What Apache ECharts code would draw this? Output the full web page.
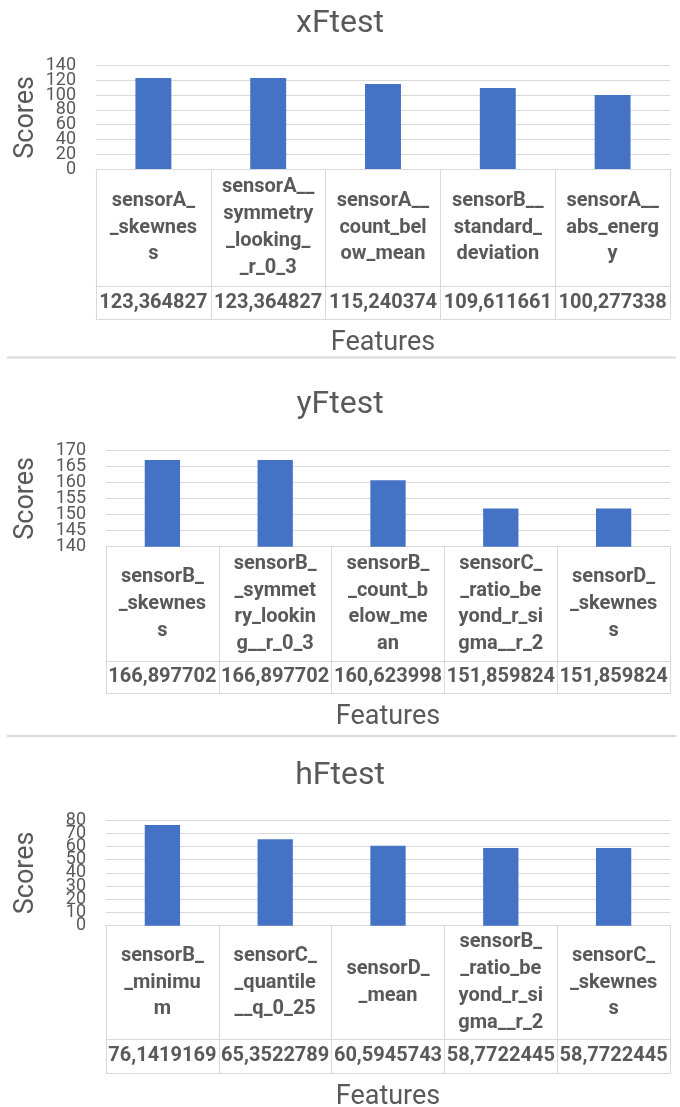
<!DOCTYPE html>
<html>
<head>
<meta charset="utf-8">
<script src="https://cdn.jsdelivr.net/npm/echarts@6/dist/echarts.min.js"></script>
<style>
  html, body { margin: 0; padding: 0; background: #ffffff; }
  #chart { width: 680px; height: 1107px; }
</style>
</head>
<body>
<div id="chart"></div>
<script>
// F-test feature scores, one panel per signal (x, y, h).
// Category names carry their wrapped line breaks.
const xCategories = [
  'sensorA_\n_skewnes\ns',
  'sensorA__\nsymmetry\n_looking_\n_r_0_3',
  'sensorA__\ncount_bel\now_mean',
  'sensorB__\nstandard_\ndeviation',
  'sensorA__\nabs_energ\ny'
];
const xScores = [123.364827, 123.364827, 115.240374, 109.611661, 100.277338];
const xTicks = [0, 20, 40, 60, 80, 100, 120, 140];

const yCategories = [
  'sensorB_\n_skewnes\ns',
  'sensorB_\n_symmet\nry_lookin\ng__r_0_3',
  'sensorB_\n_count_b\nelow_me\nan',
  'sensorC_\n_ratio_be\nyond_r_si\ngma__r_2',
  'sensorD_\n_skewnes\ns'
];
const yScores = [166.897702, 166.897702, 160.623998, 151.859824, 151.859824];
const yTicks = [140, 145, 150, 155, 160, 165, 170];

const hCategories = [
  'sensorB_\n_minimu\nm',
  'sensorC_\n_quantile\n__q_0_25',
  'sensorD_\n_mean',
  'sensorB_\n_ratio_be\nyond_r_si\ngma__r_2',
  'sensorC_\n_skewnes\ns'
];
const hScores = [76.1419169, 65.3522789, 60.5945743, 58.7722445, 58.7722445];
const hTicks = [0, 10, 20, 30, 40, 50, 60, 70, 80];

const titles = ['xFtest', 'yFtest', 'hFtest'];
const xName = 'Features';
const yName = 'Scores';

// Panel geometry (pixels)
const layouts = [
  { left: 96,  top: 65.7, plotH: 103.3, labelRow: 117,   valueRow: 33.3, titleTop: 3,   scoresGap: 56 },
  { left: 106, top: 450,  plotH: 96.7,  labelRow: 114.4, valueRow: 32.6, titleTop: 384, scoresGap: 66 },
  { left: 106, top: 820,  plotH: 105.7, labelRow: 113.6, valueRow: 34,   titleTop: 755, scoresGap: 66 }
];
const separators = [357.5, 736];

const FONT = 'Roboto';
const TEXT = '#595959';
const LINE = '#d9d9d9';
const BAR = '#4472C4';

const panels = [
  { cats: xCategories, scores: xScores, ticks: xTicks },
  { cats: yCategories, scores: yScores, ticks: yTicks },
  { cats: hCategories, scores: hScores, ticks: hTicks }
];

const fmt = v => String(v).replace('.', ',');

const option = {
  animation: false,
  backgroundColor: '#ffffff',
  textStyle: { fontFamily: FONT },
  title: [], grid: [], xAxis: [], yAxis: [], series: [],
  graphic: separators.map(y => ({
    type: 'line',
    shape: { x1: 7, y1: y, x2: 676, y2: y },
    style: { stroke: LINE, lineWidth: 2 }
  }))
};

panels.forEach((p, i) => {
  const L = layouts[i];
  const tableH = L.labelRow + L.valueRow;

  option.title.push({
    text: titles[i], left: 'center', top: L.titleTop,
    textStyle: { fontFamily: FONT, fontSize: 32, fontWeight: 'normal', color: TEXT }
  });

  option.grid.push({
    left: L.left, right: 10, top: L.top, height: L.plotH,
    containLabel: false, outerBoundsMode: 'none'
  });

  // category row: axis line = table top, ticks = column borders
  option.xAxis.push({
    type: 'category', gridIndex: i, position: 'bottom', data: p.cats,
    axisLine: { show: true, lineStyle: { color: LINE, width: 1 } },
    axisTick: { show: true, interval: 0, length: tableH, lineStyle: { color: LINE, width: 1 } },
    axisLabel: {
      interval: 0, margin: L.labelRow / 2, verticalAlign: 'middle', align: 'center',
      fontFamily: FONT, fontSize: 20, fontWeight: 'bold', color: TEXT, lineHeight: 26.7
    },
    splitLine: { show: false }
  });
  // value row
  option.xAxis.push({
    type: 'category', gridIndex: i, position: 'bottom', offset: L.labelRow, data: p.cats,
    axisLine: { show: true, lineStyle: { color: LINE, width: 1 } },
    axisTick: { show: false },
    axisLabel: {
      interval: 0, margin: L.valueRow / 2, verticalAlign: 'middle', align: 'center',
      fontFamily: FONT, fontSize: 20, fontWeight: 'bold', color: TEXT,
      formatter: (v, idx) => fmt(p.scores[idx])
    },
    splitLine: { show: false }
  });
  // table bottom + axis title
  option.xAxis.push({
    type: 'category', gridIndex: i, position: 'bottom', offset: tableH, data: p.cats,
    axisLine: { show: true, lineStyle: { color: LINE, width: 1 } },
    axisTick: { show: false },
    axisLabel: { show: false },
    splitLine: { show: false },
    name: xName, nameLocation: 'middle', nameGap: 10,
    nameTextStyle: { fontFamily: FONT, fontSize: 27, color: TEXT, verticalAlign: 'top' }
  });

  const t = p.ticks;
  // value scale for the bars, with gridlines
  option.yAxis.push({
    type: 'value', gridIndex: i, position: 'left',
    min: t[0], max: t[t.length - 1], interval: t[1] - t[0],
    axisLine: { show: false }, axisTick: { show: false },
    splitLine: { show: true, lineStyle: { color: LINE, width: 1 } },
    axisLabel: { show: false },
    name: yName, nameLocation: 'middle', nameRotate: 90, nameGap: L.scoresGap,
    nameTextStyle: { fontFamily: FONT, fontSize: 27, color: TEXT }
  });
  // evenly spaced tick labels, all kept even where they crowd together
  option.yAxis.push({
    type: 'category', gridIndex: i, position: 'left', boundaryGap: false,
    data: t.map(String),
    axisLine: { show: false }, axisTick: { show: false }, splitLine: { show: false },
    axisLabel: { interval: 0, fontFamily: FONT, fontSize: 18, color: TEXT, margin: 20 }
  });

  option.series.push({
    type: 'bar', xAxisIndex: i * 3, yAxisIndex: i * 2,
    data: p.scores, barWidth: '31.3%',
    itemStyle: { color: BAR }
  });
});

const chart = echarts.init(document.getElementById('chart'), null, { renderer: 'canvas' });
chart.setOption(option);
</script>
</body>
</html>
